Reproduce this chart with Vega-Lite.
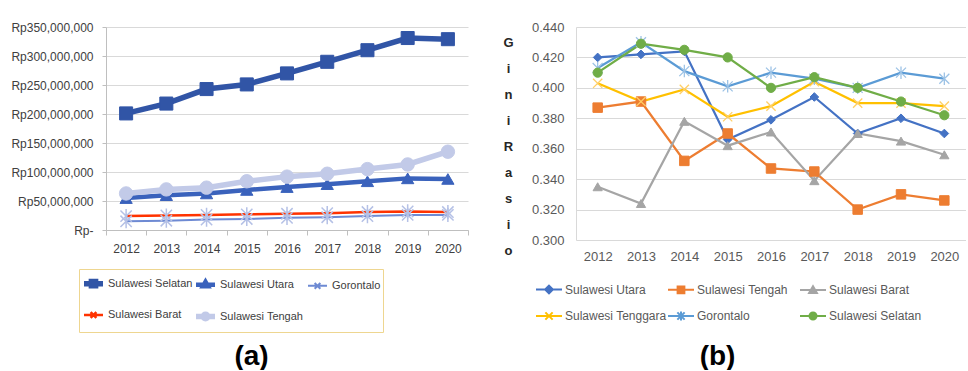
{
  "$schema": "https://vega.github.io/schema/vega-lite/v6.json",
  "background": "white",
  "padding": {"left": 10, "top": 21, "right": 0, "bottom": 0},
  "bounds": "flush",
  "spacing": 108,
  "config": {"view": {"stroke": null}, "font": "Liberation Sans"},
  "resolve": {
    "scale": {"color": "independent", "shape": "independent", "strokeWidth": "independent", "x": "independent", "y": "independent"},
    "legend": {"color": "independent"}
  },
  "hconcat": [
    {
      "width": 362,
      "height": 203,
      "data": {"values": [
        {"yr": "2012", "prov": "Sulawesi Selatan", "rp": 201000000},
        {"yr": "2013", "prov": "Sulawesi Selatan", "rp": 218000000},
        {"yr": "2014", "prov": "Sulawesi Selatan", "rp": 243000000},
        {"yr": "2015", "prov": "Sulawesi Selatan", "rp": 251000000},
        {"yr": "2016", "prov": "Sulawesi Selatan", "rp": 270000000},
        {"yr": "2017", "prov": "Sulawesi Selatan", "rp": 290000000},
        {"yr": "2018", "prov": "Sulawesi Selatan", "rp": 310000000},
        {"yr": "2019", "prov": "Sulawesi Selatan", "rp": 331000000},
        {"yr": "2020", "prov": "Sulawesi Selatan", "rp": 329000000},
        {"yr": "2012", "prov": "Sulawesi Utara", "rp": 55000000},
        {"yr": "2013", "prov": "Sulawesi Utara", "rp": 60000000},
        {"yr": "2014", "prov": "Sulawesi Utara", "rp": 63000000},
        {"yr": "2015", "prov": "Sulawesi Utara", "rp": 69000000},
        {"yr": "2016", "prov": "Sulawesi Utara", "rp": 74000000},
        {"yr": "2017", "prov": "Sulawesi Utara", "rp": 79000000},
        {"yr": "2018", "prov": "Sulawesi Utara", "rp": 84000000},
        {"yr": "2019", "prov": "Sulawesi Utara", "rp": 89000000},
        {"yr": "2020", "prov": "Sulawesi Utara", "rp": 88000000},
        {"yr": "2012", "prov": "Gorontalo", "rp": 15000000},
        {"yr": "2013", "prov": "Gorontalo", "rp": 16000000},
        {"yr": "2014", "prov": "Gorontalo", "rp": 18000000},
        {"yr": "2015", "prov": "Gorontalo", "rp": 19000000},
        {"yr": "2016", "prov": "Gorontalo", "rp": 21000000},
        {"yr": "2017", "prov": "Gorontalo", "rp": 22000000},
        {"yr": "2018", "prov": "Gorontalo", "rp": 24000000},
        {"yr": "2019", "prov": "Gorontalo", "rp": 26000000},
        {"yr": "2020", "prov": "Gorontalo", "rp": 26000000},
        {"yr": "2012", "prov": "Sulawesi Barat", "rp": 24000000},
        {"yr": "2013", "prov": "Sulawesi Barat", "rp": 25000000},
        {"yr": "2014", "prov": "Sulawesi Barat", "rp": 26000000},
        {"yr": "2015", "prov": "Sulawesi Barat", "rp": 27000000},
        {"yr": "2016", "prov": "Sulawesi Barat", "rp": 28000000},
        {"yr": "2017", "prov": "Sulawesi Barat", "rp": 29000000},
        {"yr": "2018", "prov": "Sulawesi Barat", "rp": 31000000},
        {"yr": "2019", "prov": "Sulawesi Barat", "rp": 32000000},
        {"yr": "2020", "prov": "Sulawesi Barat", "rp": 31000000},
        {"yr": "2012", "prov": "Sulawesi Tengah", "rp": 63000000},
        {"yr": "2013", "prov": "Sulawesi Tengah", "rp": 70000000},
        {"yr": "2014", "prov": "Sulawesi Tengah", "rp": 73000000},
        {"yr": "2015", "prov": "Sulawesi Tengah", "rp": 84000000},
        {"yr": "2016", "prov": "Sulawesi Tengah", "rp": 92000000},
        {"yr": "2017", "prov": "Sulawesi Tengah", "rp": 97000000},
        {"yr": "2018", "prov": "Sulawesi Tengah", "rp": 105000000},
        {"yr": "2019", "prov": "Sulawesi Tengah", "rp": 113000000},
        {"yr": "2020", "prov": "Sulawesi Tengah", "rp": 135000000}
      ]},
      "encoding": {
        "x": {
          "field": "yr", "type": "ordinal",
          "scale": {"type": "band", "paddingInner": 0, "paddingOuter": 0},
          "axis": {
            "labelAngle": 0, "labelFont": "Liberation Sans", "labelFontSize": 12, "labelColor": "#404040",
            "domain": true, "domainColor": "#BFBFBF", "ticks": true, "tickColor": "#BFBFBF", "tickSize": 5, "tickBand": "extent",
            "labelPadding": 8, "grid": false,
            "title": "(a)", "titleFont": "Liberation Sans", "titleFontSize": 28, "titleFontWeight": "bold", "titleColor": "#000000",
            "titleX": 145, "titleY": 126, "titleAlign": "center", "titleBaseline": "middle", "titleAnchor": null
          }
        },
        "y": {
          "field": "rp", "type": "quantitative",
          "scale": {"domain": [0, 350000000], "nice": false},
          "axis": {
            "values": [0, 50000000, 100000000, 150000000, 200000000, 250000000, 300000000, 350000000],
            "labelExpr": "datum.value == 0 ? 'Rp-' : 'Rp' + format(datum.value, ',')",
            "labelFont": "Liberation Sans", "labelFontSize": 12, "labelColor": "#404040",
            "domain": true, "domainColor": "#BFBFBF", "ticks": true, "tickColor": "#BFBFBF", "tickSize": 4, "labelPadding": 9,
            "grid": true, "gridColor": "#D9D9D9", "title": null
          }
        },
        "color": {
          "field": "prov", "type": "nominal",
          "scale": {"domain": ["Sulawesi Selatan", "Sulawesi Utara", "Gorontalo", "Sulawesi Barat", "Sulawesi Tengah"],
                    "range": ["#3155A6", "#3A62BC", "#6E8AD3", "#FF3300", "#C2CAE8"]},
          "legend": {
            "orient": "none", "legendX": -27, "legendY": 242, "direction": "horizontal", "columns": 3, "title": null,
            "gridAlign": "all", "columnPadding": -10, "rowPadding": 6, "symbolSize": 361, "symbolOpacity": 1,
            "labelFont": "Liberation Sans", "labelFontSize": 11, "labelColor": "#404040", "labelOffset": 2, "labelLimit": 200,
            "padding": 2, "strokeColor": "#EED690"
          }
        }
      },
      "layer": [
        {
          "mark": {"type": "line"},
          "encoding": {
            "strokeWidth": {"field": "prov", "type": "nominal", "legend": null,
              "scale": {"type": "ordinal", "domain": ["Sulawesi Selatan", "Sulawesi Utara", "Gorontalo", "Sulawesi Barat", "Sulawesi Tengah"], "range": [5.5, 4.5, 2, 2.5, 5.5]}}
          }
        },
        {
          "transform": [{"filter": "datum.prov === 'Sulawesi Selatan'"}],
          "mark": {"type": "point", "filled": true, "opacity": 1, "shape": "square", "size": 170, "stroke": "#3155A6", "strokeWidth": 1}
        },
        {
          "transform": [{"filter": "datum.prov === 'Sulawesi Utara'"}],
          "mark": {"type": "point", "filled": true, "opacity": 1, "shape": "triangle-up", "size": 150, "stroke": "#3A62BC", "strokeWidth": 1}
        },
        {
          "transform": [{"filter": "datum.prov === 'Gorontalo' || datum.prov === 'Sulawesi Barat'"}],
          "mark": {"type": "point", "filled": true, "opacity": 1, "shape": "M-0.8,-0.8L0.8,0.8M-0.8,0.8L0.8,-0.8M0,-1V1", "size": 200, "stroke": "#B5C1E6", "strokeWidth": 1.5}
        },
        {
          "transform": [{"filter": "datum.prov === 'Sulawesi Tengah'"}],
          "mark": {"type": "point", "filled": true, "opacity": 1, "shape": "circle", "size": 180, "stroke": "#C2CAE8", "strokeWidth": 1}
        },
        {
          "mark": {"type": "point", "filled": true, "opacity": 0},
          "encoding": {
            "shape": {"field": "prov", "type": "nominal", "legend": null,
              "scale": {"domain": ["Sulawesi Selatan", "Sulawesi Utara", "Gorontalo", "Sulawesi Barat", "Sulawesi Tengah"],
                        "range": ["M-1,0H1M-0.22,-0.22H0.22V0.22H-0.22Z", "M-1,0H1M0,-0.3L0.26,0.16H-0.26Z", "M-1,0H1M-0.3,-0.3L0.3,0.3M-0.3,0.3L0.3,-0.3", "M-1,0H1M-0.3,-0.3L0.3,0.3M-0.3,0.3L0.3,-0.3", "M-1,0H1M0.24,0A0.24,0.24,0,1,1,-0.24,0A0.24,0.24,0,1,1,0.24,0Z"]}}
          }
        }
      ]
    },
    {
      "width": 390,
      "height": 213,
      "data": {"values": [
        {"tahun": "2012", "wil": "Sulawesi Utara", "gini": 0.420},
        {"tahun": "2013", "wil": "Sulawesi Utara", "gini": 0.422},
        {"tahun": "2014", "wil": "Sulawesi Utara", "gini": 0.424},
        {"tahun": "2015", "wil": "Sulawesi Utara", "gini": 0.366},
        {"tahun": "2016", "wil": "Sulawesi Utara", "gini": 0.379},
        {"tahun": "2017", "wil": "Sulawesi Utara", "gini": 0.394},
        {"tahun": "2018", "wil": "Sulawesi Utara", "gini": 0.370},
        {"tahun": "2019", "wil": "Sulawesi Utara", "gini": 0.380},
        {"tahun": "2020", "wil": "Sulawesi Utara", "gini": 0.370},
        {"tahun": "2012", "wil": "Sulawesi Tengah", "gini": 0.387},
        {"tahun": "2013", "wil": "Sulawesi Tengah", "gini": 0.391},
        {"tahun": "2014", "wil": "Sulawesi Tengah", "gini": 0.352},
        {"tahun": "2015", "wil": "Sulawesi Tengah", "gini": 0.370},
        {"tahun": "2016", "wil": "Sulawesi Tengah", "gini": 0.347},
        {"tahun": "2017", "wil": "Sulawesi Tengah", "gini": 0.345},
        {"tahun": "2018", "wil": "Sulawesi Tengah", "gini": 0.320},
        {"tahun": "2019", "wil": "Sulawesi Tengah", "gini": 0.330},
        {"tahun": "2020", "wil": "Sulawesi Tengah", "gini": 0.326},
        {"tahun": "2012", "wil": "Sulawesi Barat", "gini": 0.335},
        {"tahun": "2013", "wil": "Sulawesi Barat", "gini": 0.324},
        {"tahun": "2014", "wil": "Sulawesi Barat", "gini": 0.378},
        {"tahun": "2015", "wil": "Sulawesi Barat", "gini": 0.362},
        {"tahun": "2016", "wil": "Sulawesi Barat", "gini": 0.371},
        {"tahun": "2017", "wil": "Sulawesi Barat", "gini": 0.339},
        {"tahun": "2018", "wil": "Sulawesi Barat", "gini": 0.370},
        {"tahun": "2019", "wil": "Sulawesi Barat", "gini": 0.365},
        {"tahun": "2020", "wil": "Sulawesi Barat", "gini": 0.356},
        {"tahun": "2012", "wil": "Sulawesi Tenggara", "gini": 0.403},
        {"tahun": "2013", "wil": "Sulawesi Tenggara", "gini": 0.391},
        {"tahun": "2014", "wil": "Sulawesi Tenggara", "gini": 0.399},
        {"tahun": "2015", "wil": "Sulawesi Tenggara", "gini": 0.381},
        {"tahun": "2016", "wil": "Sulawesi Tenggara", "gini": 0.388},
        {"tahun": "2017", "wil": "Sulawesi Tenggara", "gini": 0.404},
        {"tahun": "2018", "wil": "Sulawesi Tenggara", "gini": 0.390},
        {"tahun": "2019", "wil": "Sulawesi Tenggara", "gini": 0.390},
        {"tahun": "2020", "wil": "Sulawesi Tenggara", "gini": 0.388},
        {"tahun": "2012", "wil": "Gorontalo", "gini": 0.413},
        {"tahun": "2013", "wil": "Gorontalo", "gini": 0.430},
        {"tahun": "2014", "wil": "Gorontalo", "gini": 0.411},
        {"tahun": "2015", "wil": "Gorontalo", "gini": 0.401},
        {"tahun": "2016", "wil": "Gorontalo", "gini": 0.410},
        {"tahun": "2017", "wil": "Gorontalo", "gini": 0.406},
        {"tahun": "2018", "wil": "Gorontalo", "gini": 0.400},
        {"tahun": "2019", "wil": "Gorontalo", "gini": 0.410},
        {"tahun": "2020", "wil": "Gorontalo", "gini": 0.406},
        {"tahun": "2012", "wil": "Sulawesi Selatan", "gini": 0.410},
        {"tahun": "2013", "wil": "Sulawesi Selatan", "gini": 0.429},
        {"tahun": "2014", "wil": "Sulawesi Selatan", "gini": 0.425},
        {"tahun": "2015", "wil": "Sulawesi Selatan", "gini": 0.420},
        {"tahun": "2016", "wil": "Sulawesi Selatan", "gini": 0.400},
        {"tahun": "2017", "wil": "Sulawesi Selatan", "gini": 0.407},
        {"tahun": "2018", "wil": "Sulawesi Selatan", "gini": 0.400},
        {"tahun": "2019", "wil": "Sulawesi Selatan", "gini": 0.391},
        {"tahun": "2020", "wil": "Sulawesi Selatan", "gini": 0.382}
      ]},
      "encoding": {
        "x": {
          "field": "tahun", "type": "ordinal",
          "scale": {"type": "point", "padding": 0.5},
          "axis": {
            "labelAngle": 0, "labelFont": "Liberation Sans", "labelFontSize": 13, "labelColor": "#595959",
            "domain": false, "ticks": false, "tickSize": 0, "labelPadding": 10, "grid": false,
            "title": "(b)", "titleFont": "Liberation Sans", "titleFontSize": 28, "titleFontWeight": "bold", "titleColor": "#000000",
            "titleX": 141, "titleY": 116, "titleAlign": "center", "titleBaseline": "middle", "titleAnchor": null
          }
        },
        "y": {
          "field": "gini", "type": "quantitative",
          "scale": {"domain": [0.3, 0.44], "nice": false, "zero": false},
          "axis": {
            "values": [0.3, 0.32, 0.34, 0.36, 0.38, 0.4, 0.42, 0.44], "format": ".3f",
            "labelFont": "Liberation Sans", "labelFontSize": 13, "labelColor": "#595959",
            "domain": true, "domainColor": "#D9D9D9", "ticks": false, "tickSize": 0, "labelPadding": 12,
            "grid": true, "gridColor": "#D9D9D9",
            "title": ["G", "i", "n", "i", " ", "R", "a", "s", "i", "o"],
            "titleFont": "Liberation Sans", "titleFontSize": 13, "titleFontWeight": "bold", "titleColor": "#262626",
            "titleAngle": 0, "titleX": -68, "titleY": 9, "titleAlign": "center", "titleBaseline": "top", "titleLineHeight": 26, "titleAnchor": null
          }
        },
        "color": {
          "field": "wil", "type": "nominal",
          "scale": {"domain": ["Sulawesi Utara", "Sulawesi Tengah", "Sulawesi Barat", "Sulawesi Tenggara", "Gorontalo", "Sulawesi Selatan"],
                    "range": ["#4472C4", "#ED7D31", "#A5A5A5", "#FFC000", "#5B9BD5", "#70AD47"]},
          "legend": {
            "orient": "none", "legendX": -41, "legendY": 248, "direction": "horizontal", "columns": 3, "title": null,
            "gridAlign": "all", "columnPadding": -4, "rowPadding": 4, "symbolSize": 676, "symbolStrokeWidth": 2, "symbolOpacity": 1,
            "labelFont": "Liberation Sans", "labelFontSize": 12, "labelColor": "#595959", "labelOffset": 2, "labelLimit": 200, "padding": 0
          }
        }
      },
      "layer": [
        {"mark": {"type": "line", "strokeWidth": 2.25}},
        {
          "transform": [{"filter": "datum.wil === 'Sulawesi Utara'"}],
          "mark": {"type": "point", "filled": true, "opacity": 1, "shape": "diamond", "size": 75, "stroke": "#4472C4", "strokeWidth": 1}
        },
        {
          "transform": [{"filter": "datum.wil === 'Sulawesi Tengah'"}],
          "mark": {"type": "point", "filled": true, "opacity": 1, "shape": "square", "size": 90, "stroke": "#ED7D31", "strokeWidth": 1}
        },
        {
          "transform": [{"filter": "datum.wil === 'Sulawesi Barat'"}],
          "mark": {"type": "point", "filled": true, "opacity": 1, "shape": "triangle-up", "size": 85, "stroke": "#A5A5A5", "strokeWidth": 1}
        },
        {
          "transform": [{"filter": "datum.wil === 'Sulawesi Tenggara'"}],
          "mark": {"type": "point", "filled": true, "opacity": 1, "shape": "M-1,-1L1,1M-1,1L1,-1", "size": 85, "stroke": "#FFCF66", "strokeWidth": 1.3}
        },
        {
          "transform": [{"filter": "datum.wil === 'Gorontalo'"}],
          "mark": {"type": "point", "filled": true, "opacity": 1, "shape": "M-1,-1L1,1M-1,1L1,-1M0,-1.25V1.25", "size": 100, "stroke": "#9DC3E6", "strokeWidth": 1.3}
        },
        {
          "transform": [{"filter": "datum.wil === 'Sulawesi Selatan'"}],
          "mark": {"type": "point", "filled": true, "opacity": 1, "shape": "circle", "size": 85, "stroke": "#70AD47", "strokeWidth": 1}
        },
        {
          "mark": {"type": "point", "filled": true, "opacity": 0},
          "encoding": {
            "shape": {"field": "wil", "type": "nominal", "legend": null,
              "scale": {"domain": ["Sulawesi Utara", "Sulawesi Tengah", "Sulawesi Barat", "Sulawesi Tenggara", "Gorontalo", "Sulawesi Selatan"],
                        "range": ["M-1,0H1M0,-0.3L0.3,0L0,0.3L-0.3,0Z", "M-1,0H1M-0.26,-0.26H0.26V0.26H-0.26Z", "M-1,0H1M0,-0.3L0.3,0.22H-0.3Z", "M-1,0H1M-0.28,-0.28L0.28,0.28M-0.28,0.28L0.28,-0.28", "M-1,0H1M-0.28,-0.28L0.28,0.28M-0.28,0.28L0.28,-0.28M0,-0.35V0.35", "M-1,0H1M0.27,0A0.27,0.27,0,1,1,-0.27,0A0.27,0.27,0,1,1,0.27,0Z"]}}
          }
        }
      ]
    }
  ]
}
